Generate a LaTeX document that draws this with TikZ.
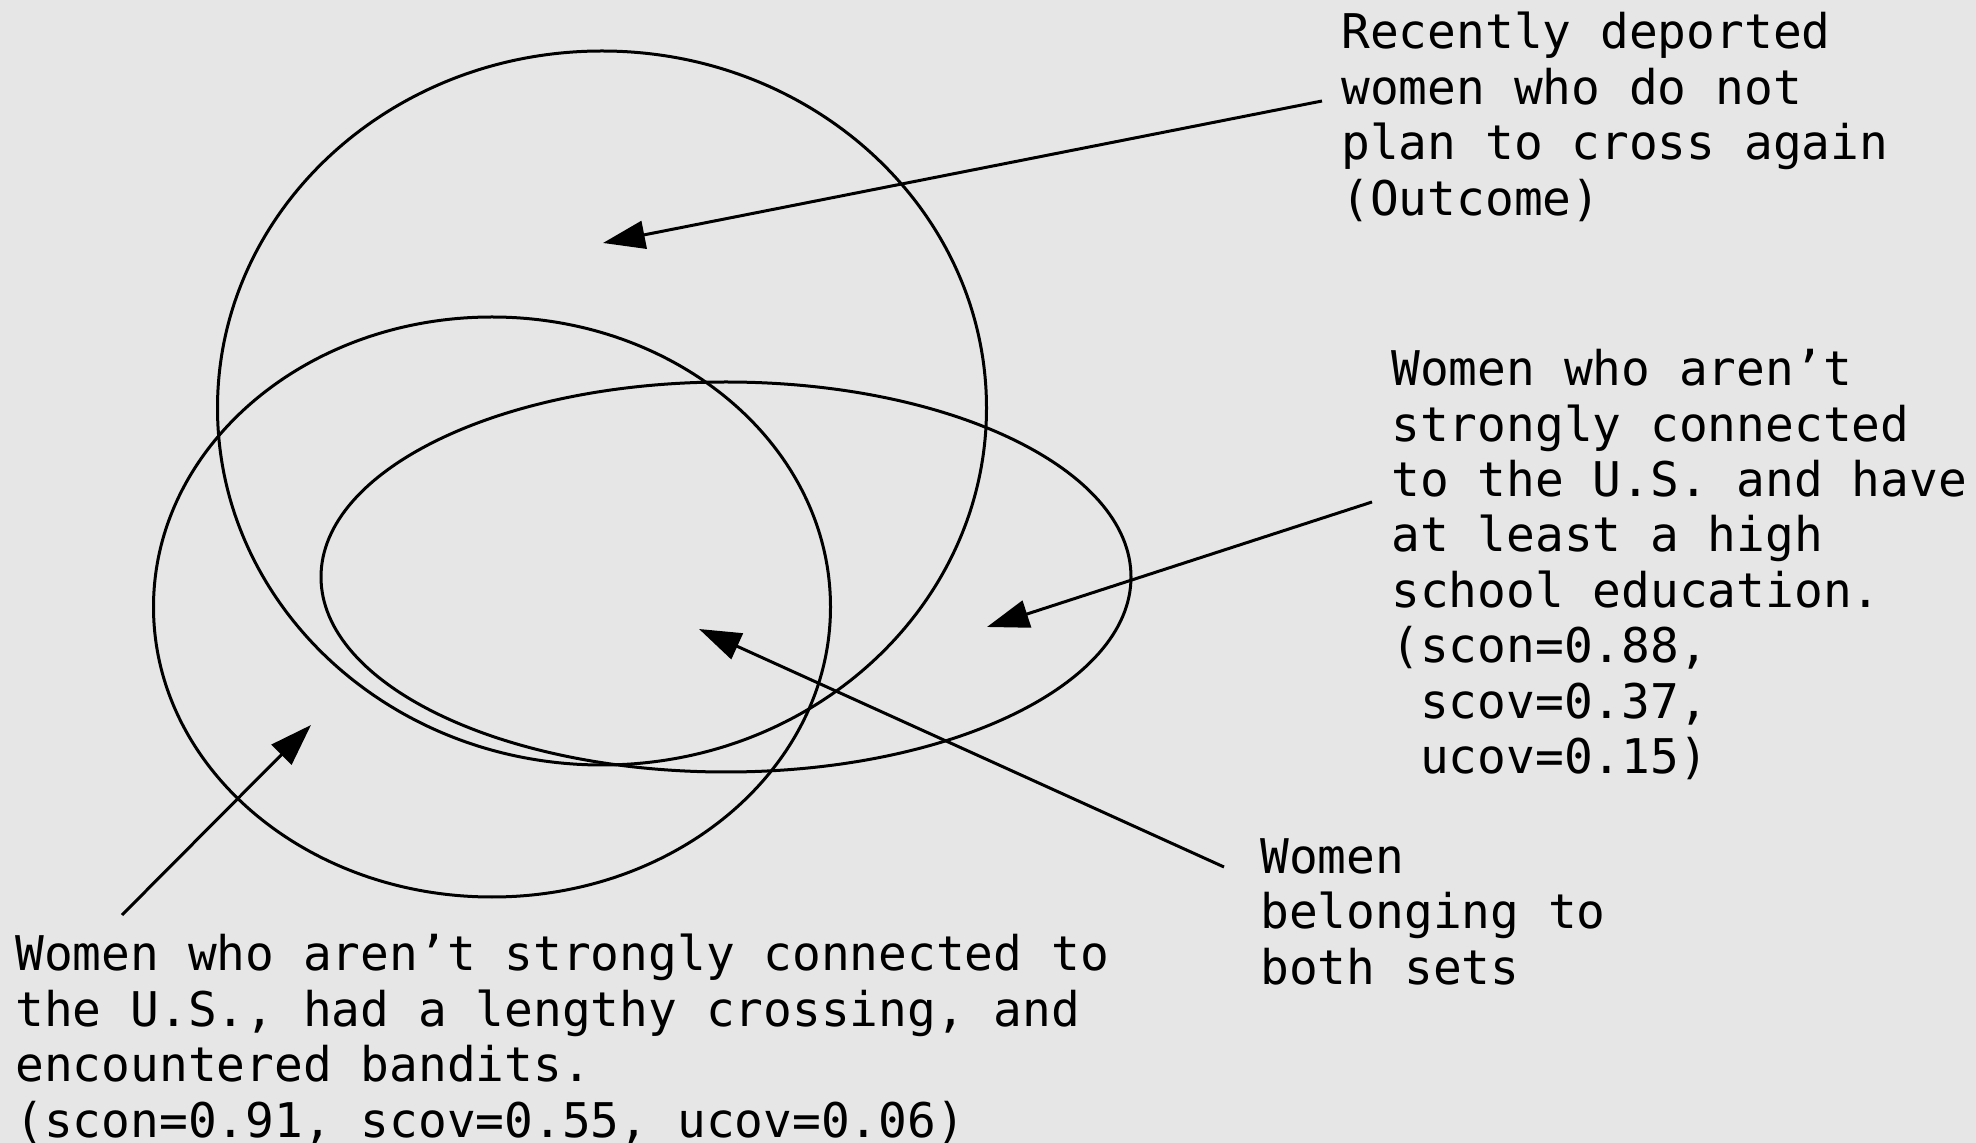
\documentclass[tikz,border=0pt]{standalone}
\usepackage{fontspec}
\newfontfamily\monofnt{DejaVu Sans Mono}
\usetikzlibrary{shapes.geometric, arrows.meta}
\definecolor{bggray}{HTML}{E6E6E6}

\begin{document}
\begin{tikzpicture}[x=0.5pt, y=-0.5pt,
		set/.style = {draw, ellipse, line width=1.5pt, inner sep=0pt, outer sep=0pt},
		lbl/.style = {align=left, inner sep=0pt, anchor=north west,
			font=\monofnt\fontsize{23.9pt}{27.7pt}\selectfont},
		pointer/.style = {line width=1.5pt, -{Triangle[length=21pt, width=14pt]}}
	]
		\fill[bggray] (0,0) rectangle (1976,1143);
		\useasboundingbox (0,0) rectangle (1976,1143);

		% the three sets
		\node[set, minimum width=384.5pt, minimum height=357pt] (outcome) at (602,408) {};
		\node[set, minimum width=338.5pt, minimum height=290pt] (bandits) at (492,607) {};
		\node[set, minimum width=405pt, minimum height=195pt] (school) at (726,577) {};

		% labels
		\node[lbl] (outtxt) at (1341,12) {Recently deported\\women who do not\\plan to cross again\\(Outcome)};
		\node[lbl] (schooltxt) at (1391,349) {Women who aren’t\\strongly connected\\to the U.S. and have\\at least a high\\school education.\\(scon=0.88,\\\phantom{(}scov=0.37,\\\phantom{(}ucov=0.15)};
		\node[lbl] (bothtxt) at (1260,838) {Women\\belonging to\\both sets};
		\node[lbl] (banditstxt) at (15,934) {Women who aren’t strongly connected to\\the U.S., had a lengthy crossing, and\\encountered bandits.\\(scon=0.91, scov=0.55, ucov=0.06)};

		% pointers
		\coordinate (outfrom) at (1322,101);
		\coordinate (outto) at (603,243);
		\coordinate (schoolfrom) at (1372,502);
		\coordinate (schoolto) at (987,627);
		\coordinate (bothfrom) at (1224,867);
		\coordinate (bothto) at (699,629);
		\coordinate (banditsfrom) at (122,915);
		\coordinate (banditsto) at (311,725);

		\draw[pointer] (outfrom) -- (outto);
		\draw[pointer] (schoolfrom) -- (schoolto);
		\draw[pointer] (bothfrom) -- (bothto);
		\draw[pointer] (banditsfrom) -- (banditsto);
	\end{tikzpicture}
\end{document}
